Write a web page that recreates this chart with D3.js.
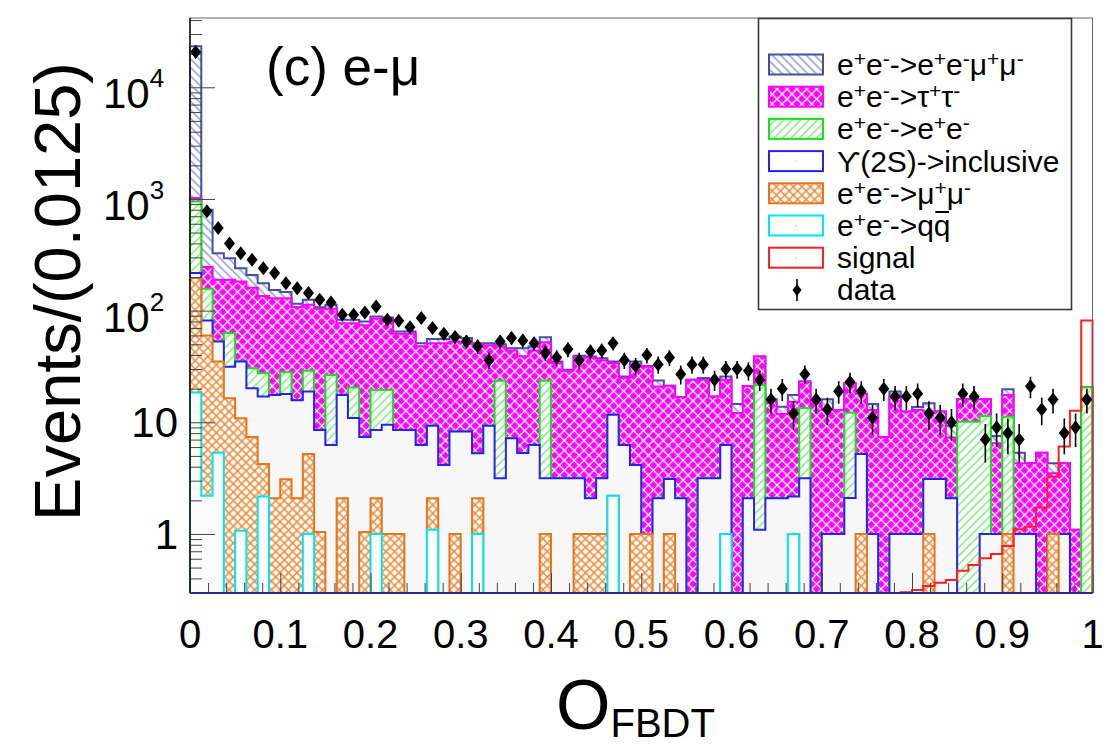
<!DOCTYPE html>
<html>
<head>
<meta charset="utf-8">
<script src="https://cdn.jsdelivr.net/npm/d3@7"></script>
<style>
  html, body { margin: 0; padding: 0; background: #ffffff; }
  svg text { font-family: "Liberation Sans", Arial, Helvetica, sans-serif; fill: #000; }
</style>
</head>
<body>
<svg id="chart" width="1110" height="748"></svg>
<script>
// ---- Histogram contents: 80 bins of width 0.0125 on O_FBDT in [0, 1] ----
const binWidth = 0.0125;

// Per-process expected events per bin (stacked bottom -> top: qq, mumu, Y(2S), ee, tautau, eemumu)
const qqbar = [
  18.5, 2.2, 5.35, 0, 1.07, 0, 2.16, 0, 0, 0,
  1, 0, 0, 0, 0, 0, 1, 0, 0, 0,
  0, 1.09, 0, 0, 0, 1, 0, 0, 0, 0,
  0, 0, 0, 0, 0, 0, 0, 2.2, 0, 0,
  0, 0, 0, 0, 0, 0, 0, 1, 0, 0,
  0, 0, 0, 1, 0, 0, 0, 0, 0, 0,
  0, 0, 0, 0, 0, 0, 0, 0, 0, 0,
  0, 0, 0, 0, 0, 0, 0, 0, 0, 0
];
const mumu = [
  177.5, 57.8, 29.65, 16.4, 9.8, 7.4, 2.08, 2.09, 3.09, 2.09,
  4.2, 1.04, 0, 2.09, 0, 1.04, 1.09, 1, 1, 0,
  0, 1, 0, 1, 0, 1.09, 0, 0, 0, 0,
  0, 1, 0, 0, 1, 1, 1, 0, 0, 1,
  1, 0, 1, 0, 0, 0, 0, 0, 0, 0,
  0, 0, 0, 0, 0, 0, 0, 0, 0, 1,
  0, 0, 0, 0, 0, 1, 0, 0, 0, 0,
  0, 0, 1, 0, 0, 0, 1, 0, 0, 0
];
const upsilon2S = [
  21, 21.5, 17.8, 15.1, 24.1, 12.8, 12.8, 15.5, 14.8, 13.7,
  13.7, 7.5, 6.27, 15.5, 10.9, 6.36, 6.46, 8.5, 7.55, 8.55,
  6.27, 7.2, 4.15, 7.25, 8.25, 3.2, 9.3, 3.15, 7.2, 5.3,
  6.27, 2.15, 3.15, 3.15, 2.15, 1.09, 2.15, 9.5, 6.27, 3.15,
  0, 2.09, 2.1, 2.09, 0, 3.15, 3.15, 5.27, 0, 2.09,
  1.09, 2.09, 2.09, 1.16, 3.15, 0, 1, 1, 2.1, 4.2,
  1, 0, 1, 1, 1, 2.1, 3.1, 2.09, 0, 0,
  1, 1, 0, 1, 1, 0, 0, 1, 0, 0
];
const eeBhabha = [
  733, 75.5, 0, 31.4, 0, 10.3, 10.5, 0, 10.2, 0,
  10.1, 0, 20.3, 0, 9.6, 0, 10.95, 10, 0, 0,
  0, 0, 0, 0, 0, 0, 0, 20.35, 0, 0,
  0, 20.35, 0, 0, 0, 0, 0, 0, 0, 0,
  0, 0, 0, 0, 0, 0, 0, 0, 0, 0,
  20.5, 0, 0, 0, 10.25, 0, 0, 0, 10.1, 0,
  0, 0, 0, 0, 0, 0, 0, 0, 10.1, 10.1,
  10.4, 0, 10.2, 0, 0, 0, 0, 0, 0, 20.6
];
const tautau = [
  70, 89, 136, 126, 147, 129.5, 107.5, 111.4, 100.9, 92.2,
  84, 95.5, 77.4, 59.4, 56.5, 66.6, 65.5, 64.5, 53.45, 53.45,
  41.7, 41.7, 46.85, 44.75, 44.75, 44.7, 39.7, 24.5, 36.8, 33.7,
  37.7, 28.5, 30.85, 25.85, 35.35, 35.9, 32.85, 22.3, 18.73, 28.85,
  30.45, 18.8, 18.1, 14.7, 24, 20.85, 13.85, 17.73, 12.1, 19.1,
  17.2, 13.4, 9.8, 13.1, 9.8, 14.8, 11.9, 11.9, 10.2, 12.8,
  11.9, 7.4, 16, 11.5, 11.9, 9.4, 9.4, 5.2, 6, 6,
  4.7, 5.5, 6.4, 3.3, 3.3, 5.35, 2.5, 3.3, 1.09, 0
];
const eemumu = [
  22280, 554, 138, 106, 58, 49, 41, 24, 18, 7,
  12, 3, 9, 6, 6, 6, 3.5, 3, 3, 3,
  3, 4.6, 4.6, 5.6, 4, 1, 2, 2, 2, 7,
  3.7, 5.8, 1, 0.5, 0.9, 0.8, 1.5, 1, 0.7, 2,
  0.5, 2.8, 0, 0, 0, 0.9, 0, 1.7, 2.5, 0,
  0, 0.6, 1.9, 2.3, 0, 0.8, 3.2, 0, 0, 0,
  1.7, 0, 1.9, 0, 0.8, 2.3, 0, 2, 0, 0,
  0, 1.05, 2.2, 1.05, 0, 0, 0.8, 0, 0, 0
];
const signal = [
  0, 0, 0, 0, 0, 0, 0, 0, 0, 0,
  0, 0, 0, 0, 0, 0, 0, 0, 0, 0,
  0, 0, 0, 0, 0, 0, 0, 0, 0, 0,
  0, 0, 0, 0, 0, 0, 0, 0, 0, 0,
  0, 0, 0, 0, 0, 0, 0, 0, 0, 0,
  0, 0, 0, 0, 0, 0, 0, 0, 0, 0,
  0.12, 0.17, 0.24, 0.30, 0.315, 0.342, 0.366, 0.387, 0.469, 0.527,
  0.605, 0.662, 0.781, 1.10, 1.16, 1.73, 3.26, 6.06, 12.7, 81.5
];
const dataCounts = [
  20700, 775, 550, 400, 327, 285, 240, 217, 176, 159,
  144, 125, 118, 92, 92, 96, 109, 83, 81, 71,
  86, 70, 62, 58, 53, 48, 36, 53, 57, 54,
  51, 42, 38, 45, 36, 43, 44, 51, 36, 32,
  40, 33, 38, 27, 33, 33, 24, 30, 30, 29,
  24, 16, 20, 12, 27, 16, 13, 19, 23, 19,
  11, 20, 17, 17, 18, 12, 11, 10, 18, 17,
  7, 9, 8, 7, 21, 13, 16, 8, 9, 16
];

const xTickLabels = ["0", "0.1", "0.2", "0.3", "0.4", "0.5", "0.6", "0.7", "0.8", "0.9", "1"];
const yMajorTicks = [1, 10, 100, 1000, 10000];
const yTickExponents = ["0", "1", "2", "3", "4"];

// ---- Layout ----
const svg = d3.select("#chart");
const plot = { left: 190, right: 1092.5, top: 18, bottom: 593 };
const yMin = 0.296, yMax = 41740;

const x = d3.scaleLinear().domain([0, 1]).range([plot.left, plot.right]);
const y = d3.scaleLog().domain([yMin, yMax]).range([plot.bottom, plot.top]);
const yc = v => y(Math.max(v, yMin));

const nBins = dataCounts.length;
const edges = d3.range(nBins + 1).map(i => i * binWidth);

// ---- Fill patterns ----
const defs = svg.append("defs");
function linePattern(id, bg, color, angle, spacing, width, cross) {
  const p = defs.append("pattern")
    .attr("id", id)
    .attr("patternUnits", "userSpaceOnUse")
    .attr("width", spacing).attr("height", spacing)
    .attr("patternTransform", `rotate(${angle})`);
  p.append("rect").attr("width", spacing).attr("height", spacing).attr("fill", bg);
  p.append("line").attr("x1", spacing / 2).attr("x2", spacing / 2)
    .attr("y1", -1).attr("y2", spacing + 1)
    .attr("stroke", color).attr("stroke-width", width);
  if (cross) {
    p.append("line").attr("y1", spacing / 2).attr("y2", spacing / 2)
      .attr("x1", -1).attr("x2", spacing + 1)
      .attr("stroke", color).attr("stroke-width", width);
  }
}
linePattern("pat-eemumu", "#ffffff", "#6b74bd", -45, 6, 1.1, false);
linePattern("pat-tautau", "#ff00ff", "#ffffff", 45, 7, 1.3, true);
linePattern("pat-ee", "#ffffff", "#4ee04e", 45, 6, 1.1, false);
linePattern("pat-mumu", "#fffaf5", "#eb8c40", 45, 6, 1.5, true);

// ---- Stacked layers (cumulative from the bottom) ----
const processes = [
  { key: "qq",     values: qqbar,     fill: "#fbfbfb",           stroke: "#00e6f0" },
  { key: "mumu",   values: mumu,      fill: "url(#pat-mumu)",    stroke: "#e5761c" },
  { key: "ups",    values: upsilon2S, fill: "#f7f7f7",           stroke: "#2424e8" },
  { key: "ee",     values: eeBhabha,  fill: "url(#pat-ee)",      stroke: "#16e316" },
  { key: "tautau", values: tautau,    fill: "url(#pat-tautau)",  stroke: "#ff00ff" },
  { key: "eemumu", values: eemumu,    fill: "url(#pat-eemumu)",  stroke: "#4450a4" }
];
const rows = d3.range(nBins).map(i => {
  const r = {};
  processes.forEach(p => { r[p.key] = p.values[i]; });
  return r;
});
const stacked = d3.stack().keys(processes.map(p => p.key))(rows);

function stepPoints(vals) {
  const pts = [[edges[0], yMin]];
  vals.forEach((v, i) => pts.push([edges[i], v]));
  pts.push([edges[nBins], vals[nBins - 1]]);
  pts.push([edges[nBins], yMin]);
  return pts;
}
const stepLine = d3.line().curve(d3.curveStepAfter).x(d => x(d[0])).y(d => yc(d[1]));

const histG = svg.append("g");
// Draw the total first, then each lower cumulative sum over it
for (let k = processes.length - 1; k >= 0; k--) {
  const cum = stacked[k].map(d => d[1]);
  const pts = stepPoints(cum);
  histG.append("path")
    .attr("d", stepLine(pts) + "Z")
    .attr("fill", processes[k].fill)
    .attr("stroke", "none");
  histG.append("path")
    .attr("d", stepLine(pts))
    .attr("fill", "none")
    .attr("stroke", processes[k].stroke)
    .attr("stroke-width", 2);
}

// Signal shape, outline only
histG.append("path")
  .attr("d", stepLine(stepPoints(signal)))
  .attr("fill", "none")
  .attr("stroke", "#ff1f1f")
  .attr("stroke-width", 2);

// ---- Axes ticks (drawn inside the frame) ----
const tickColor = "#444";
const yAxisMajor = svg.append("g").attr("transform", `translate(${plot.left},0)`)
  .call(d3.axisLeft(y).tickValues(yMajorTicks).tickSize(-25).tickFormat(""));
const yAxisMinor = svg.append("g").attr("transform", `translate(${plot.left},0)`)
  .call(d3.axisLeft(y).tickValues(y.ticks().filter(t => !yMajorTicks.includes(t))).tickSize(-12).tickFormat(""));
const xMajor = d3.range(0, 11).map(i => i / 10);
const xMinor = d3.range(0, 51).map(i => i / 50).filter(t => Math.abs(t * 10 - Math.round(t * 10)) > 1e-6);
const xAxisMajor = svg.append("g").attr("transform", `translate(0,${plot.bottom})`)
  .call(d3.axisBottom(x).tickValues(xMajor).tickSize(-20).tickFormat(""));
const xAxisMinor = svg.append("g").attr("transform", `translate(0,${plot.bottom})`)
  .call(d3.axisBottom(x).tickValues(xMinor).tickSize(-10).tickFormat(""));
[yAxisMajor, yAxisMinor, xAxisMajor, xAxisMinor].forEach(g => {
  g.select(".domain").remove();
  g.selectAll(".tick line").attr("stroke", tickColor).attr("stroke-width", 1);
});

// ---- Data points with Poisson error bars ----
const dataG = svg.append("g");
dataCounts.forEach((n, i) => {
  const cx = x(edges[i] + binWidth / 2);
  const err = Math.sqrt(n);
  dataG.append("line")
    .attr("x1", cx).attr("x2", cx)
    .attr("y1", yc(n - err)).attr("y2", yc(n + err))
    .attr("stroke", "#000").attr("stroke-width", 1.6);
  dataG.append("path")
    .attr("d", "M0,-7L5.5,0L0,7L-5.5,0Z")
    .attr("transform", `translate(${cx},${yc(n)})`)
    .attr("fill", "#000");
});

// ---- Frame ----
svg.append("rect")
  .attr("x", plot.left).attr("y", plot.top)
  .attr("width", plot.right - plot.left).attr("height", plot.bottom - plot.top)
  .attr("fill", "none").attr("stroke", "#666").attr("stroke-width", 1);
svg.append("line").attr("x1", plot.left).attr("x2", plot.left)
  .attr("y1", plot.top).attr("y2", plot.bottom).attr("stroke", "#111").attr("stroke-width", 1.5);
svg.append("line").attr("x1", plot.left).attr("x2", plot.right)
  .attr("y1", plot.bottom).attr("y2", plot.bottom).attr("stroke", "#2a2a8c").attr("stroke-width", 2);

// ---- Tick labels ----
xTickLabels.forEach((lab, i) => {
  svg.append("text")
    .attr("x", x(xMajor[i])).attr("y", 648)
    .attr("text-anchor", "middle")
    .attr("font-size", 40)
    .text(lab);
});
yMajorTicks.forEach((v, i) => {
  const ty = y(v);
  if (v < 100) {
    svg.append("text")
      .attr("x", 178).attr("y", ty + 15)
      .attr("text-anchor", "end").attr("font-size", 42)
      .text(String(v));
  } else {
    const t = svg.append("text")
      .attr("x", 103).attr("y", ty + 21)
      .attr("font-size", 42);
    t.append("tspan").text("10");
    t.append("tspan").attr("font-size", 26).attr("dy", -21).text(yTickExponents[i]);
  }
});

// ---- Axis titles ----
svg.append("text")
  .attr("transform", "translate(80,62) rotate(-90)")
  .attr("text-anchor", "end")
  .attr("font-size", 65)
  .text("Events/(0.0125)");
const xt = svg.append("text").attr("x", 556).attr("y", 729).attr("font-size", 70);
xt.append("tspan").text("O");
xt.append("tspan").attr("font-size", 40).attr("dy", 8).text("FBDT");

// Panel label
svg.append("text").attr("x", 266).attr("y", 85).attr("font-size", 53).text("(c) e-\u03bc");

// ---- Legend ----
const legendEntries = [
  { parts: [["e"], ["+", 1], ["e"], ["-", 1], ["->e"], ["+", 1], ["e"], ["-", 1], ["\u03bc"], ["+", 1], ["\u03bc"], ["-", 1]], fill: "url(#pat-eemumu)", stroke: "#4450a4" },
  { parts: [["e"], ["+", 1], ["e"], ["-", 1], ["->\u03c4"], ["+", 1], ["\u03c4"], ["-", 1]], fill: "url(#pat-tautau)", stroke: "#ff00ff" },
  { parts: [["e"], ["+", 1], ["e"], ["-", 1], ["->e"], ["+", 1], ["e"], ["-", 1]], fill: "url(#pat-ee)", stroke: "#16e316" },
  { parts: [["\u03d2(2S)->inclusive"]], fill: "#ffffff", stroke: "#2424e8", dot: true },
  { parts: [["e"], ["+", 1], ["e"], ["-", 1], ["->\u03bc"], ["+", 1], ["\u03bc"], ["-", 1]], fill: "url(#pat-mumu)", stroke: "#e5761c" },
  { parts: [["e"], ["+", 1], ["e"], ["-", 1], ["->q"], ["q", 2]], fill: "#ffffff", stroke: "#00e6f0", dot: true },
  { parts: [["signal"]], fill: "#ffffff", stroke: "#ff1f1f", dot: true },
  { parts: [["data"]], marker: true }
];
const lg = svg.append("g");
lg.append("rect")
  .attr("x", 758.5).attr("y", 18.5).attr("width", 313).attr("height", 291)
  .attr("fill", "#ffffff").attr("stroke", "#3a3a3a").attr("stroke-width", 1.6);
const legFont = 30;
legendEntries.forEach((e, k) => {
  const cy = 64.5 + 32.2 * k;
  if (e.marker) {
    lg.append("line").attr("x1", 797).attr("x2", 797).attr("y1", cy - 11).attr("y2", cy + 11)
      .attr("stroke", "#000").attr("stroke-width", 1.6);
    lg.append("path").attr("d", "M0,-6L4.5,0L0,6L-4.5,0Z")
      .attr("transform", `translate(797,${cy})`).attr("fill", "#000");
  } else {
    lg.append("rect").attr("x", 769).attr("y", cy - 10).attr("width", 54).attr("height", 20)
      .attr("fill", e.fill).attr("stroke", e.stroke).attr("stroke-width", 2);
    if (e.dot) {
      lg.append("rect").attr("x", 795.5).attr("y", cy - 0.5).attr("width", 1).attr("height", 1).attr("fill", "#999");
    }
  }
  const baseY = cy + 10.5;
  const t = lg.append("text").attr("x", 837).attr("y", baseY).attr("font-size", legFont);
  let shift = 0;
  let barred = -1;
  e.parts.forEach(([s, kind]) => {
    const ts = t.append("tspan").text(s);
    if (kind === 1) {
      ts.attr("font-size", 21).attr("dy", -9 - shift);
      shift = -9;
    } else {
      ts.attr("dy", -shift);
      shift = 0;
    }
    if (kind === 2) barred = t.text().length - 1;
  });
  // anti-quark bar over the last character
  if (barred >= 0) {
    const ext = t.node().getExtentOfChar(barred);
    lg.append("line")
      .attr("x1", ext.x + 1.5).attr("x2", ext.x + ext.width - 1.5)
      .attr("y1", baseY - 24).attr("y2", baseY - 24)
      .attr("stroke", "#000").attr("stroke-width", 2);
  }
});
</script>
</body>
</html>
